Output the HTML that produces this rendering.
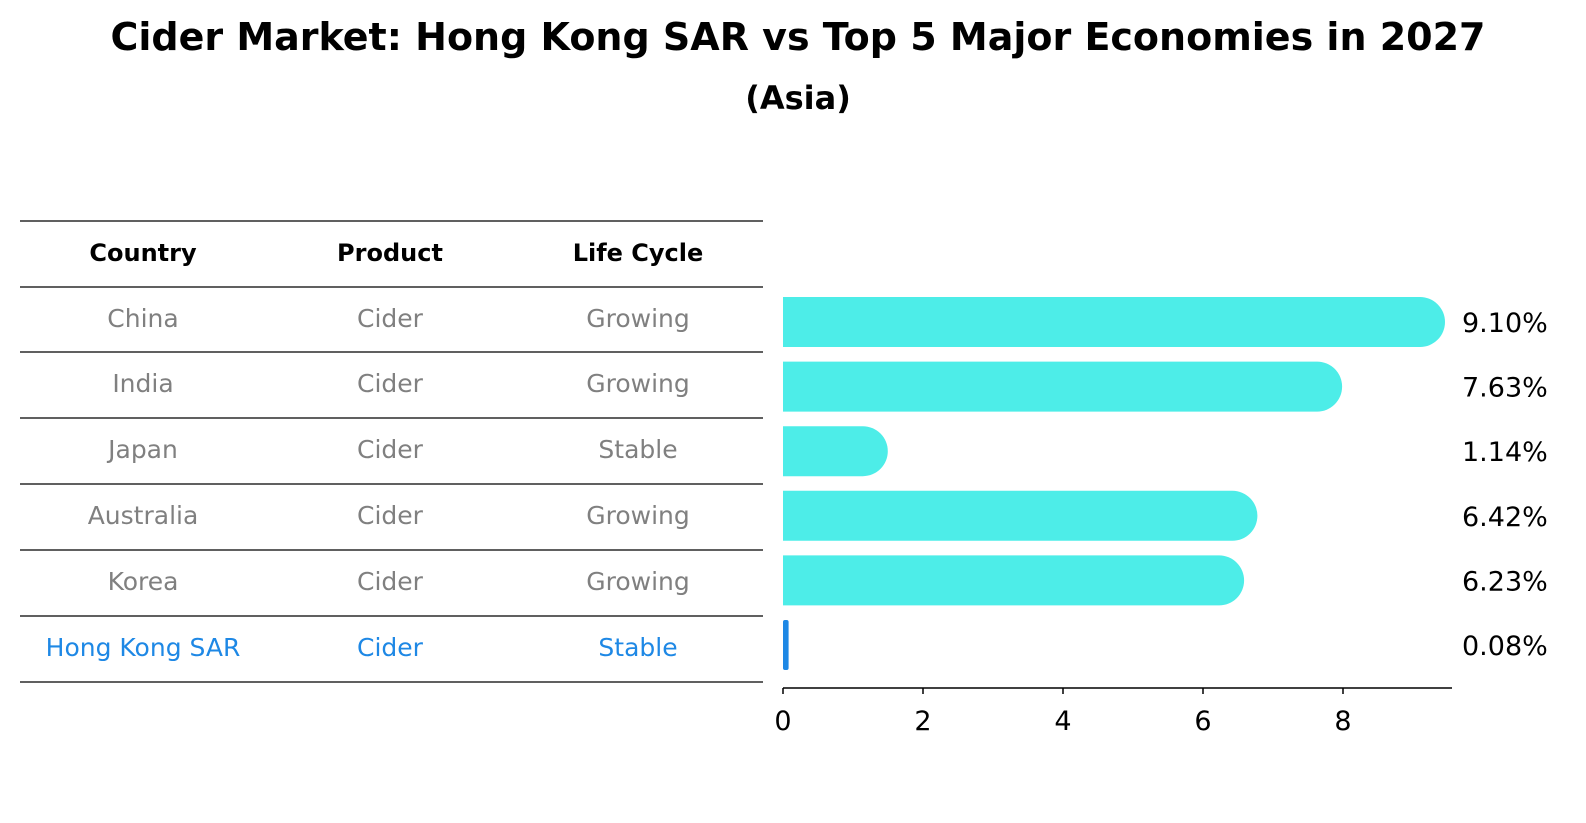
<!DOCTYPE html>
<html><head><meta charset="utf-8"><style>
html,body{margin:0;padding:0;background:#fff;overflow:hidden;width:1586px;height:823px}
svg{display:block}
</style></head><body>
<svg width="1586" height="823" xmlns="http://www.w3.org/2000/svg" font-family="DejaVu Sans, Liberation Sans, sans-serif">
<text x="798" y="50" text-anchor="middle" font-size="38" font-weight="bold">Cider Market: Hong Kong SAR vs Top 5 Major Economies in 2027</text>
<text x="798" y="109" text-anchor="middle" font-size="32" font-weight="bold">(Asia)</text>
<g id="table"></g>
<g id="bars"></g>
</svg>
<script>
const countries=["China","India","Japan","Australia","Korea","Hong Kong SAR"];
const products=["Cider","Cider","Cider","Cider","Cider","Cider"];
const lifecycles=["Growing","Growing","Stable","Growing","Growing","Stable"];
const values=[9.10,7.63,1.14,6.42,6.23,0.08];
const tickVals=[0,2,4,6,8];
const NS="http://www.w3.org/2000/svg";
function mk(tag,attrs,parent,text){const e=document.createElementNS(NS,tag);for(const k in attrs)e.setAttribute(k,attrs[k]);if(text!==undefined)e.textContent=text;parent.appendChild(e);return e;}
const x=v=>783+v*70;
const rowY=i=>322+i*64.6;
const T=document.getElementById('table');
const lineYs=[221,287,352,418,484,550,616,682];
lineYs.forEach(y=>{const l=mk('line',{x1:20,x2:763,y1:y,y2:y,stroke:'#000','stroke-width':1.2},T);

});
const colX=[143,390,638];
["Country","Product","Life Cycle"].forEach((h,j)=>{const t=mk('text',{x:colX[j],y:261,'text-anchor':'middle','font-size':24,'font-weight':'bold'},T,h);

});
countries.forEach((c,i)=>{const y=lineYs[i+1]+40;const col=i===5?'#1e88e5':'#808080';
[c,products[i],lifecycles[i]].forEach((v,j)=>{const t=mk('text',{x:colX[j],y:y,'text-anchor':'middle','font-size':25,fill:col},T,v);

});});
const B=document.getElementById('bars');
values.forEach((v,i)=>{const cy=rowY(i);
if(i<5){const g=mk('path',{d:`M${x(0)},${cy-25} H${x(v)} A25,25 0 0 1 ${x(v)},${cy+25} H${x(0)} Z`,fill:'#4dede8'},B);

}
else{const g=mk('rect',{x:x(0),y:cy-25,width:Math.max(x(v)-x(0),3),height:50,rx:2,fill:'#1e88e5'},B);

}
const t=mk('text',{x:1462,y:cy+10,'font-size':27},B,v.toFixed(2)+'%');

});
const ax=mk('line',{x1:783,x2:1452,y1:688,y2:688,stroke:'#000','stroke-width':1.5},B);


tickVals.forEach(v=>{const l=mk('line',{x1:x(v),x2:x(v),y1:688,y2:694,stroke:'#000','stroke-width':1.5},B);


const t=mk('text',{x:x(v),y:730,'text-anchor':'middle','font-size':27},B,String(v));

});
</script>
</body></html>
